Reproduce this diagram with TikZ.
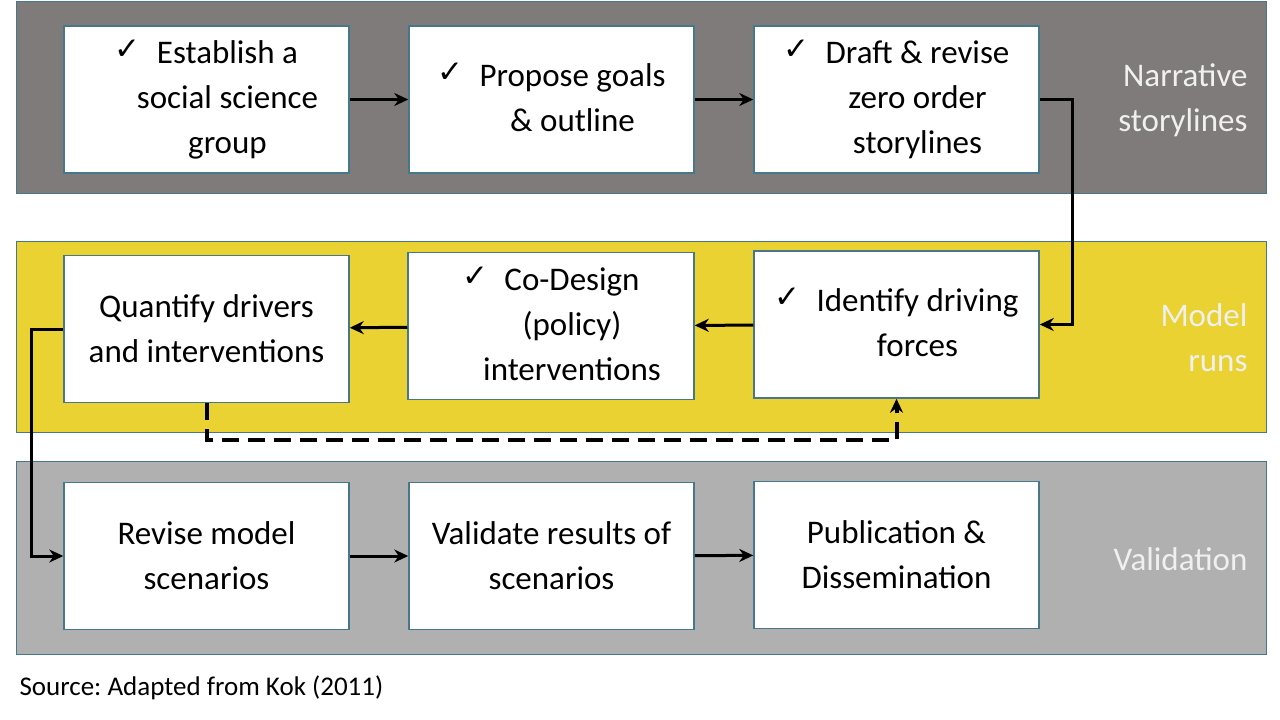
\documentclass[tikz,border=0pt]{standalone}
\usepackage{fontspec}
\setmainfont{Carlito}
\newfontfamily\symfont{DejaVu Sans}
\usepackage{tikz}
\usetikzlibrary{positioning,arrows.meta,calc}
\usepackage{xcolor}
\frenchspacing

\definecolor{storyband}{RGB}{127,123,122}
\definecolor{modelband}{RGB}{234,210,50}
\definecolor{validband}{RGB}{177,176,176}
\definecolor{bandedge}{RGB}{70,120,140}

% hanging check mark in front of the first line
\newcommand{\tick}{\llap{{\symfont\fontsize{31}{31}\selectfont\raisebox{4pt}{✓}}\hspace{16pt}}}
\newcommand{\tickbox}[1]{\begin{tabular}{@{\hspace{42pt}}c@{}}#1\end{tabular}}

\begin{document}
\begin{tikzpicture}[x=1pt, y=-1pt,
  band/.style={draw=bandedge, line width=1pt},
  stepbox/.style={draw=bandedge, line width=1.5pt, fill=white, inner sep=0pt,
    minimum width=285pt, minimum height=147pt, align=center,
    font=\fontsize{33}{45}\selectfont},
  bandlabel/.style={anchor=east, align=right, text=white!94!black,
    font=\fontsize{33}{45}\selectfont},
  flow/.style={line width=3pt, -{Stealth[length=14pt,width=13pt]}},
  back/.style={line width=4pt, dash pattern=on 17pt off 9pt, -{Stealth[length=14pt,width=13pt]}}
]
\useasboundingbox (0,0) rectangle (1280,720);

% Bands
\fill[storyband] (16,1) rectangle (1266,193);
\draw[band] (16,1) rectangle (1266,193);
\fill[modelband] (16,241) rectangle (1266,432);
\draw[band] (16,241) rectangle (1266,432);
\fill[validband] (16,461) rectangle (1266,654);
\draw[band] (16,461) rectangle (1266,654);

\node[bandlabel] (storylab) at (1251,100) {Narrative\\storylines};
\node[bandlabel] (modellab) at (1251,338) {Model\\runs};
\node[bandlabel] (validlab) at (1251,559) {Validation};

% Narrative storylines
\node[stepbox] (group) at (206.5,99.5) {\tickbox{\tick Establish a\\social science\\group}};
\node[stepbox] (goals) at (551.5,99.5) {\tickbox{\tick Propose goals\\\& outline}};
\node[stepbox] (draft) at (896.5,99.5) {\tickbox{\tick Draft \& revise\\zero order\\storylines}};

% Model runs
\node[stepbox] (quantify) at (206.5,329) {Quantify drivers\\and interventions};
\node[stepbox, minimum width=286pt] (codesign) at (551,326) {\tickbox{\tick Co-Design\\(policy)\\interventions}};
\node[stepbox] (identify) at (896.5,324.5) {\tickbox{\tick Identify driving\\forces}};

% Validation
\node[stepbox] (revise) at (206.5,556) {Revise model\\scenarios};
\node[stepbox] (validate) at (551.5,556) {Validate results of\\scenarios};
\node[stepbox] (publish) at (896.5,555) {Publication \&\\Dissemination};

% Flow
\foreach \a/\b in {group/goals, goals/draft, identify/codesign, codesign/quantify, revise/validate, validate/publish} {
  \draw[flow] (\a) -- (\b);
}
\draw[flow] (draft.east) -- ++(33,0) |- (identify.east);
\draw[flow] (quantify.west) -- ++(-32,0) |- (revise.west);

% Feedback
\draw[back] (quantify.south) -- ++(0,37) -| (identify.south);

\node[anchor=base west, font=\fontsize{27}{32}\selectfont] (source) at (16,695) {Source: Adapted from Kok (2011)};
\end{tikzpicture}
\end{document}
